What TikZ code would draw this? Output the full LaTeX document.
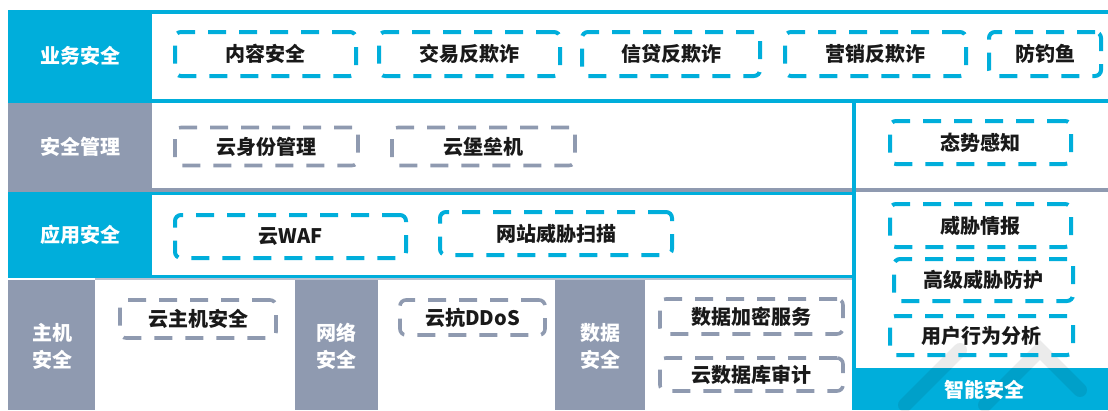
\documentclass[tikz,border=0pt]{standalone}
\usepackage{fontspec}
\setmainfont{Noto Sans CJK SC}
\definecolor{cyanA}{RGB}{0,174,219}
\definecolor{grayA}{RGB}{143,154,176}
\definecolor{txtcol}{RGB}{25,25,25}
\begin{document}
\begin{tikzpicture}[x=1pt,y=-1pt,
  lbl/.style={text=white,font=\fontsize{20}{27}\selectfont\bfseries,align=center,inner sep=0pt},
  bbox/.style={draw=cyanA,line width=4pt,dash pattern=on 18pt off 13pt,rounded corners=6pt,
     text=txtcol,font=\fontsize{20}{26}\selectfont\bfseries,inner sep=0pt},
  gbox/.style={bbox,draw=grayA,line width=3.6pt},
  cell/.style={inner sep=0pt,outer sep=0pt}]
\useasboundingbox (0,0) rectangle (1108,410);
% row 1
\fill[cyanA] (8,10) rectangle (1108,103);
\fill[white] (152,14) rectangle (1108,99);
% row 2
\fill[grayA] (8,103) rectangle (152,192);
\fill[grayA] (152,188) rectangle (1108,192);
% row 3
\fill[cyanA] (8,192) rectangle (852,278);
\fill[white] (152,195) rectangle (852,275);
\fill[grayA!60] (95,278) rectangle (852,280);
% row 4 labels
\fill[grayA] (8,280) rectangle (95,410);
\fill[grayA] (295,280) rectangle (378,410);
\fill[grayA] (555,280) rectangle (645,410);
% right column
\fill[cyanA] (852,103) rectangle (856,410);
\fill[cyanA] (856,368) rectangle (1108,410);
% watermark hint
\begin{scope}[opacity=0.08,line width=14pt,line cap=round]
\draw[black] (905,405) -- (960,350);
\draw[black] (985,405) -- (1040,350) -- (1080,390);
\end{scope}
% labels
\node[lbl] (l1) at (80,56) {业务安全};
\node[lbl] (l2) at (80,147) {安全管理};
\node[lbl] (l3) at (80,235) {应用安全};
\node[lbl] (l4) at (52,346) {主机\\安全};
\node[lbl] (l5) at (336.5,346) {网络\\安全};
\node[lbl] (l6) at (600,346) {数据\\安全};
\node[lbl] (l7) at (984,390) {智能安全};
% row1 boxes
\node[bbox,minimum width=181pt,minimum height=44pt] (b1) at (265.5,54) {内容安全};
\node[bbox,minimum width=181pt,minimum height=44pt] (b2) at (469.5,54) {交易反欺诈};
\node[bbox,minimum width=178pt,minimum height=44pt] (b3) at (671,54) {信贷反欺诈};
\node[bbox,minimum width=181pt,minimum height=44pt] (b4) at (875.5,54) {营销反欺诈};
\node[bbox,minimum width=112pt,minimum height=44pt] (b5) at (1045,54) {防钓鱼};
% row2
\node[gbox,minimum width=183pt,minimum height=38pt] (g1) at (266.5,146.5) {云身份管理};
\node[gbox,minimum width=183pt,minimum height=38pt] (g2) at (483.5,146.5) {云堡垒机};
\node[bbox,minimum width=181pt,minimum height=43pt] (r1) at (980.5,142.5) {态势感知};
% row3
\node[bbox,minimum width=231pt,minimum height=43pt] (a1) at (290.5,236.5) {云WAF};
\node[bbox,minimum width=232pt,minimum height=43pt] (a2) at (556,233.5) {网站威胁扫描};
% right
\node[bbox,minimum width=181pt,minimum height=43pt] (r2) at (980.5,225.5) {威胁情报};
\node[bbox,minimum width=179pt,minimum height=42pt] (r3) at (983.5,280) {高级威胁防护};
\node[bbox,minimum width=183pt,minimum height=39pt] (r4) at (981.5,335.5) {用户行为分析};
% bottom
\node[gbox,minimum width=156pt,minimum height=38pt] (h1) at (198,319) {云主机安全};
\node[gbox,minimum width=145pt,minimum height=35pt] (n1) at (472.5,317.5) {云抗DDoS};
\node[gbox,minimum width=183pt,minimum height=35pt] (d1) at (751.5,316.5) {数据加密服务};
\node[gbox,minimum width=183pt,minimum height=33pt] (d2) at (751.5,374.5) {云数据库审计};
\end{tikzpicture}
\end{document}
